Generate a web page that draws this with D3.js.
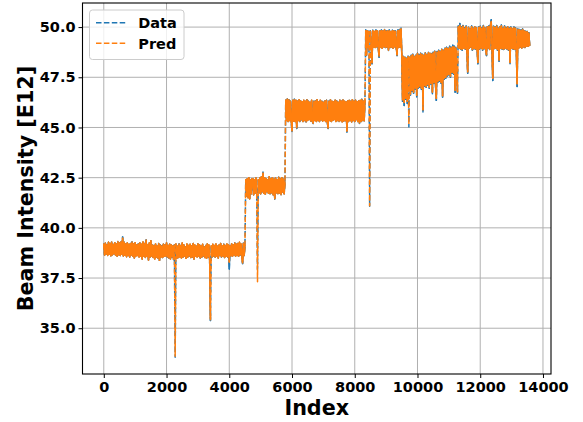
<!DOCTYPE html>
<html>
<head>
<meta charset="utf-8">
<script src="https://cdn.jsdelivr.net/npm/d3@7"></script>
<style>
  html, body { margin: 0; padding: 0; background: #fff; }
  svg { display: block; }
  text { font-family: "DejaVu Sans", sans-serif; font-weight: bold; }
</style>
</head>
<body>
<div id="chart"></div>
<script>
// ---- data (one sample every 25 index steps, alternating band high / low) ----
const sampleStep = 25;
const dataValues = [
  39.20,38.65,39.25,38.70,39.15,38.62,39.28,38.68,39.22,38.60,
  39.30,38.66,39.18,38.70,39.26,38.64,39.20,38.58,39.32,38.66,
  39.24,38.62,39.30,38.68,39.55,38.60,39.28,38.64,39.20,38.56,
  39.25,38.62,39.18,38.55,39.22,38.65,39.30,38.58,39.20,38.50,
  39.26,38.60,39.15,38.62,39.20,38.55,39.24,38.58,39.18,38.45,
  39.30,38.60,39.22,38.52,39.40,38.58,39.15,38.40,39.25,38.55,
  39.36,38.60,39.15,38.52,39.12,38.45,39.20,38.55,39.10,38.50,
  39.22,38.38,39.15,38.55,39.10,38.52,39.18,38.58,39.15,38.60,
  39.25,38.55,39.12,38.50,39.20,38.45,39.15,38.55,39.10,38.42,
  39.15,33.56,39.20,38.48,39.08,38.52,39.20,38.55,39.12,38.50,
  39.25,38.55,39.15,38.60,39.05,38.48,39.20,38.55,39.12,38.60,
  39.18,38.52,39.10,38.55,39.22,38.45,39.15,38.58,39.08,38.55,
  39.20,38.60,39.15,38.50,39.10,38.55,39.18,38.60,39.05,38.52,
  39.12,38.48,39.20,38.55,39.15,38.40,35.38,39.10,38.55,39.18,
  38.60,39.12,38.55,39.20,38.58,39.08,38.50,39.15,38.62,39.22,
  38.55,39.10,38.60,39.18,38.52,39.12,38.58,39.20,38.55,39.15,
  37.94,39.10,38.62,39.20,38.58,39.15,38.65,39.25,38.60,39.18,
  38.62,39.22,38.60,39.28,38.65,39.20,38.60,38.22,39.25,38.62,
  39.15,
  42.40,41.60,42.45,41.50,42.50,41.45,42.38,41.70,42.45,
  42.45,41.65,42.40,41.72,42.50,41.70,37.94,42.40,41.75,42.48,
  41.70,42.55,41.80,42.78,41.72,42.50,41.68,42.45,41.80,42.40,
  41.72,42.55,41.70,42.45,41.75,42.50,41.65,42.42,41.42,42.48,
  41.75,42.40,41.70,42.52,41.72,42.45,41.65,42.50,41.78,42.42,
  41.70,42.30,
  46.35,45.35,46.42,45.30,46.38,45.35,46.30,45.32,
  44.80,46.35,45.32,46.40,45.30,46.35,44.95,46.30,45.35,46.38,
  45.30,46.32,45.38,46.28,45.30,46.35,45.35,46.30,45.28,46.38,
  45.35,46.30,45.40,46.25,45.32,46.35,45.30,45.20,46.30,45.35,
  46.32,45.30,46.38,45.35,46.28,45.30,46.35,45.38,46.30,45.32,
  46.25,45.35,46.32,45.30,46.35,45.28,44.95,46.30,45.35,46.38,
  45.30,46.30,45.35,46.28,45.40,46.35,45.30,46.32,45.35,46.25,
  45.30,46.35,45.35,46.30,45.28,46.38,45.32,46.30,45.35,46.28,
  44.78,46.32,45.30,46.35,45.35,46.30,45.28,46.38,45.35,46.30,
  45.30,46.35,45.38,46.28,45.30,46.32,45.20,46.35,45.30,46.40,
  45.35,46.30,45.32,46.35,
  49.85,48.58,49.82,49.00,49.80,41.07,
  49.80,48.95,48.17,49.85,49.00,49.78,48.98,49.85,49.02,49.80,
  48.95,48.50,49.82,49.00,49.85,48.95,49.80,49.02,49.88,48.98,
  49.82,49.00,49.80,48.83,49.85,48.98,49.78,49.00,49.85,48.95,
  49.82,49.02,49.80,48.95,48.58,49.85,48.98,49.88,49.00,49.95,
  48.60,46.30,48.55,46.10,48.50,46.40,48.45,46.20,48.55,45.03,
  48.50,46.60,48.60,46.80,48.65,46.70,48.55,46.90,48.60,46.52,
  48.70,46.95,48.62,47.00,48.70,46.90,48.65,45.77,48.60,47.05,
  48.72,47.00,48.65,47.10,48.75,46.95,48.70,47.15,48.68,46.68,
  48.75,47.20,48.80,47.10,46.35,48.78,47.25,48.85,47.30,48.80,
  47.20,48.90,46.50,48.85,47.40,48.95,47.45,49.00,47.55,48.95,
  47.60,49.05,47.50,49.00,47.70,49.10,47.65,49.05,46.76,49.00,
  47.70,46.71,
  50.05,48.95,50.18,48.90,50.00,48.85,50.08,48.95,
  49.95,48.90,50.05,48.88,47.70,50.00,48.95,49.92,49.00,50.05,
  48.85,49.95,48.92,50.02,48.90,49.98,48.95,48.17,50.00,48.90,
  50.05,48.95,49.95,48.85,50.08,48.92,49.98,48.90,48.58,50.02,
  48.95,50.05,48.88,50.10,50.36,48.90,47.34,50.05,48.92,50.00,
  48.95,50.08,48.85,49.95,48.30,50.02,48.95,50.10,48.90,49.95,
  48.88,50.05,48.95,49.98,48.90,50.02,48.85,49.95,48.17,50.00,
  48.95,49.92,48.90,50.00,48.88,49.95,48.92,47.04,49.90,48.95,
  49.88,49.00,49.85,48.95,49.90,49.02,49.82,48.98,49.80,49.05,
  49.78,49.05,49.72,49.08
];
const predValues = [
  39.20,38.65,39.25,38.70,39.15,38.62,39.28,38.68,39.22,38.60,
  39.30,38.66,39.18,38.70,39.26,38.64,39.20,38.58,39.32,38.66,
  39.24,38.62,39.30,38.68,39.50,38.60,39.28,38.64,39.20,38.56,
  39.25,38.62,39.18,38.55,39.22,38.65,39.30,38.58,39.20,38.50,
  39.26,38.60,39.15,38.62,39.20,38.55,39.24,38.58,39.18,38.45,
  39.30,38.60,39.22,38.52,39.40,38.58,39.15,38.40,39.25,38.55,
  39.36,38.60,39.15,38.52,39.12,38.45,39.20,38.55,39.10,38.50,
  39.22,38.38,39.15,38.55,39.10,38.52,39.18,38.58,39.15,38.60,
  39.25,38.55,39.12,38.50,39.20,38.45,39.15,38.55,39.10,38.42,
  39.15,33.60,39.20,38.48,39.08,38.52,39.20,38.55,39.12,38.50,
  39.25,38.55,39.15,38.60,39.05,38.48,39.20,38.55,39.12,38.60,
  39.18,38.52,39.10,38.55,39.22,38.45,39.15,38.58,39.08,38.55,
  39.20,38.60,39.15,38.50,39.10,38.55,39.18,38.60,39.05,38.52,
  39.12,38.48,39.20,38.55,39.15,38.40,35.42,39.10,38.55,39.18,
  38.60,39.12,38.55,39.20,38.58,39.08,38.50,39.15,38.62,39.22,
  38.55,39.10,38.60,39.18,38.52,39.12,38.58,39.20,38.55,39.15,
  38.30,39.10,38.62,39.20,38.58,39.15,38.65,39.25,38.60,39.18,
  38.62,39.22,38.60,39.28,38.65,39.20,38.60,38.25,39.22,38.62,
  39.15,
  42.40,41.60,42.45,41.50,42.50,41.45,42.38,41.70,42.45,
  42.45,41.65,42.40,41.72,42.50,41.70,37.31,42.40,41.75,42.48,
  41.70,42.55,41.80,42.72,41.72,42.50,41.68,42.45,41.80,42.40,
  41.72,42.55,41.70,42.45,41.75,42.50,41.65,42.42,41.45,42.48,
  41.75,42.40,41.70,42.52,41.72,42.45,41.65,42.50,41.78,42.42,
  41.70,42.30,
  46.35,45.35,46.40,45.30,46.38,45.35,46.30,45.32,
  44.83,46.35,45.32,46.38,45.30,46.35,44.98,46.30,45.35,46.38,
  45.30,46.32,45.38,46.28,45.30,46.35,45.35,46.30,45.28,46.38,
  45.35,46.30,45.40,46.25,45.32,46.35,45.30,45.22,46.30,45.35,
  46.32,45.30,46.38,45.35,46.28,45.30,46.35,45.38,46.30,45.32,
  46.25,45.35,46.32,45.30,46.35,45.28,44.98,46.30,45.35,46.38,
  45.30,46.30,45.35,46.28,45.40,46.35,45.30,46.32,45.35,46.25,
  45.30,46.35,45.35,46.30,45.28,46.38,45.32,46.30,45.35,46.28,
  44.82,46.32,45.30,46.35,45.35,46.30,45.28,46.38,45.35,46.30,
  45.30,46.35,45.38,46.28,45.30,46.32,45.22,46.35,45.30,46.38,
  45.35,46.30,45.32,46.35,
  49.82,48.62,49.80,49.00,49.78,41.10,
  49.78,48.95,48.22,49.82,49.00,49.78,48.98,49.82,49.02,49.80,
  48.95,48.55,49.80,49.00,49.82,48.95,49.80,49.02,49.85,48.98,
  49.80,49.00,49.80,48.86,49.82,48.98,49.78,49.00,49.82,48.95,
  49.80,49.02,49.78,48.95,48.62,49.82,48.98,49.85,49.00,49.90,
  48.58,46.38,48.52,46.25,48.48,46.45,48.42,46.30,48.52,45.15,
  48.48,46.65,48.58,46.85,48.62,46.75,48.52,46.95,48.58,46.60,
  48.68,47.00,48.60,47.05,48.68,46.95,48.62,45.88,48.58,47.10,
  48.70,47.05,48.62,47.15,48.72,47.00,48.68,47.20,48.65,46.75,
  48.72,47.25,48.78,47.15,46.45,48.75,47.30,48.82,47.35,48.78,
  47.25,48.88,46.58,48.82,47.45,48.92,47.50,48.96,47.60,48.92,
  47.65,49.00,47.55,48.96,47.75,49.02,47.70,49.00,46.85,48.96,
  47.75,46.78,
  50.02,48.95,50.08,48.92,49.98,48.88,50.04,48.95,
  49.93,48.92,50.02,48.90,47.78,49.98,48.95,49.90,49.00,50.02,
  48.88,49.93,48.94,50.00,48.92,49.96,48.95,48.24,49.98,48.92,
  50.02,48.95,49.93,48.88,50.05,48.94,49.96,48.92,48.63,50.00,
  48.95,50.02,48.90,50.06,50.28,48.92,47.45,50.02,48.94,49.98,
  48.95,50.04,48.88,49.93,48.36,50.00,48.95,50.06,48.92,49.93,
  48.90,50.02,48.95,49.96,48.92,50.00,48.88,49.93,48.24,49.98,
  48.95,49.90,48.92,49.98,48.90,49.93,48.94,47.18,49.88,48.95,
  49.86,49.00,49.83,48.96,49.88,49.02,49.80,48.98,49.78,49.05,
  49.76,49.05,49.70,49.08
];
const sampleIndex = d3.range(0, dataValues.length * sampleStep, sampleStep);
const seriesNames = ["Data", "Pred"];
const seriesColors = ["#1f77b4", "#ff7f0e"];
const xTicks = [0, 2000, 4000, 6000, 8000, 10000, 12000, 14000];
const yTicks = [35.0, 37.5, 40.0, 42.5, 45.0, 47.5, 50.0];
const xLabel = "Index";
const yLabel = "Beam Intensity [E12]";

// ---- layout ----
const W = 583, H = 422;
const plot = { left: 82.5, right: 551, top: 3, bottom: 374 };

const svg = d3.select("#chart").append("svg").attr("width", W).attr("height", H);

const xMin = 0, xMax = 13577;
const xPad = (xMax - xMin) * 0.05;
const x = d3.scaleLinear().domain([xMin - xPad, xMax + xPad]).range([plot.left, plot.right]);
const allVals = dataValues.concat(predValues);
const yLo = d3.min(allVals), yHi = d3.max(allVals);
const yPad = (yHi - yLo) * 0.05;
const y = d3.scaleLinear().domain([yLo - yPad, yHi + yPad]).range([plot.bottom, plot.top]);

// grid
const grid = svg.append("g");
grid.selectAll(".gx").data(xTicks).join("line")
  .attr("x1", d => x(d)).attr("x2", d => x(d))
  .attr("y1", plot.top).attr("y2", plot.bottom)
  .attr("stroke", "#b0b0b0").attr("stroke-width", 1);
grid.selectAll(".gy").data(yTicks).join("line")
  .attr("y1", d => y(d)).attr("y2", d => y(d))
  .attr("x1", plot.left).attr("x2", plot.right)
  .attr("stroke", "#b0b0b0").attr("stroke-width", 1);

// series: dashed line, plus a solid overlay of the short (dense-band) steps,
// which is how the very dense original line renders
svg.append("clipPath").attr("id", "clip").append("rect")
  .attr("x", plot.left).attr("y", plot.top)
  .attr("width", plot.right - plot.left).attr("height", plot.bottom - plot.top);
const line = d3.line().x(d => x(d[0])).y(d => y(d[1]));
const denseLimitPx = 61;
const series = [dataValues, predValues];
series.forEach((vals, k) => {
  const pts = vals.map((v, i) => [sampleIndex[i], v]);
  svg.append("path")
    .attr("clip-path", "url(#clip)")
    .attr("d", line(pts))
    .attr("fill", "none")
    .attr("stroke", seriesColors[k])
    .attr("stroke-width", 1.5)
    .attr("stroke-dasharray", "5.5,2.4")
    .attr("stroke-linejoin", "round");
  let d = "";
  for (let i = 1; i < pts.length; i++) {
    const x0 = x(pts[i - 1][0]), y0 = y(pts[i - 1][1]);
    const x1 = x(pts[i][0]), y1 = y(pts[i][1]);
    if (Math.abs(y1 - y0) < denseLimitPx) d += `M${x0},${y0}L${x1},${y1}`;
  }
  svg.append("path")
    .attr("clip-path", "url(#clip)")
    .attr("d", d)
    .attr("fill", "none")
    .attr("stroke", seriesColors[k])
    .attr("stroke-width", 1.5)
    .attr("stroke-linecap", "round");
});

// axes
const xAxis = d3.axisBottom(x).tickValues(xTicks).tickFormat(d3.format("d")).tickSize(4).tickPadding(3);
const yAxis = d3.axisLeft(y).tickValues(yTicks).tickFormat(d3.format(".1f")).tickSize(4).tickPadding(3);
const gx = svg.append("g").attr("transform", `translate(0,${plot.bottom})`).call(xAxis);
const gy = svg.append("g").attr("transform", `translate(${plot.left},0)`).call(yAxis);
[gx, gy].forEach(g => {
  g.select(".domain").remove();
  g.selectAll(".tick line").attr("stroke", "#000").attr("stroke-width", 1);
  g.selectAll(".tick text").attr("fill", "#000").style("font-size", "14.5px").style("font-weight", "bold");
});
gx.selectAll(".tick text").attr("dy", "0.75em");

// frame
svg.append("rect")
  .attr("x", plot.left).attr("y", plot.top)
  .attr("width", plot.right - plot.left).attr("height", plot.bottom - plot.top)
  .attr("fill", "none").attr("stroke", "#000").attr("stroke-width", 1.1);

// labels
svg.append("text").attr("x", (plot.left + plot.right) / 2).attr("y", 415)
  .attr("text-anchor", "middle").style("font-size", "20.7px").text(xLabel);
svg.append("text")
  .attr("transform", `translate(33,${(plot.top + plot.bottom) / 2}) rotate(-90)`)
  .attr("text-anchor", "middle").style("font-size", "20.7px").text(yLabel);

// legend
const leg = svg.append("g");
leg.append("rect").attr("x", 89.5).attr("y", 10).attr("width", 94.5).attr("height", 49.5)
  .attr("rx", 3).attr("fill", "#fff").attr("fill-opacity", 0.8)
  .attr("stroke", "#cccccc").attr("stroke-width", 1);
seriesNames.forEach((name, k) => {
  const yy = 22.7 + k * 20.6;
  leg.append("line").attr("x1", 96).attr("x2", 127).attr("y1", yy).attr("y2", yy)
    .attr("stroke", seriesColors[k]).attr("stroke-width", 1.5).attr("stroke-dasharray", "5.5,2.4");
  leg.append("text").attr("x", 138.3).attr("y", yy + 5.5).style("font-size", "14.5px").text(name);
});
</script>
</body>
</html>
